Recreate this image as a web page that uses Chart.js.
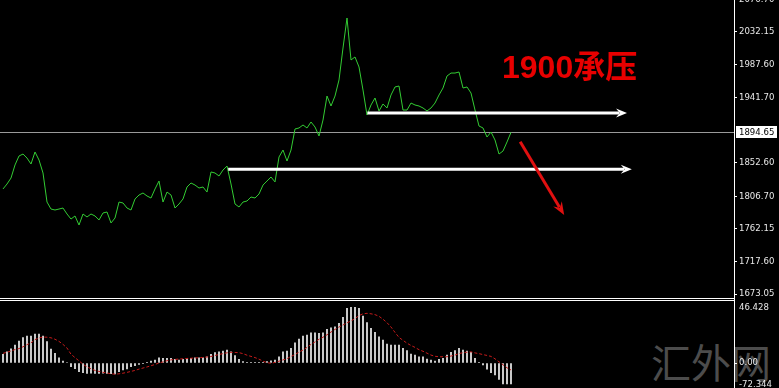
<!DOCTYPE html>
<html>
<head>
<meta charset="utf-8">
<script src="https://cdn.jsdelivr.net/npm/chart.js@4.4.1/dist/chart.umd.min.js"></script>
<style>
  html, body { margin: 0; padding: 0; background: #000; }
  #wrap { position: relative; width: 779px; height: 388px; overflow: hidden; background: #000; }
  #main { position: absolute; left: 0; top: 0; z-index: 1; }
  #sub { position: absolute; left: 0; top: 299px; z-index: 1; }
  .note { position: absolute; left: 502px; top: 51px; z-index: 2; color: #e80000; font: bold 32px 'Liberation Sans', 'Noto Sans CJK SC', sans-serif; line-height: 32px; white-space: nowrap; }
  .mark { position: absolute; left: 651px; top: 341px; z-index: 0; color: #4c4c4c; font: 40px 'Noto Sans CJK SC', sans-serif; line-height: 40px; white-space: nowrap; }
</style>
</head>
<body>
<div id="wrap">
  <div class="mark">汇外网</div>
  <canvas id="main" width="779" height="299"></canvas>
  <canvas id="sub" width="779" height="89"></canvas>
  <div class="note">1900承压</div>
</div>
<script>
// cours de clôture, une barre tous les 4 px
const closePrices = [
  1817.0, 1823.8, 1832.0, 1849.9, 1862.2, 1864.9, 1859.4, 1851.2, 1867.7, 1856.7,
  1838.9, 1799.1, 1789.5, 1788.2, 1789.5, 1790.9, 1782.7, 1775.8, 1780.0, 1767.6,
  1782.7, 1778.6, 1782.7, 1780.0, 1774.5, 1784.1, 1785.4, 1770.4, 1777.2, 1799.1,
  1797.8, 1790.9, 1788.2, 1803.3, 1808.7, 1811.5, 1807.4, 1804.6, 1817.0, 1827.9,
  1799.1, 1812.8, 1808.7, 1790.9, 1796.4, 1803.3, 1819.7, 1825.2, 1822.4, 1818.3,
  1819.7, 1812.8, 1840.3, 1838.9, 1834.8, 1843.0, 1848.5, 1823.8, 1796.4, 1792.3,
  1799.1, 1800.5, 1806.0, 1804.6, 1810.1, 1822.4, 1827.9, 1833.4, 1826.6, 1860.8,
  1870.4, 1855.3, 1870.4, 1899.2, 1900.6, 1904.7, 1900.6, 1908.8, 1901.9, 1889.6,
  1911.5, 1944.4, 1930.7, 1944.4, 1966.4, 2010.2, 2051.3, 1993.8, 1997.9, 1984.2,
  1952.6, 1918.4, 1932.1, 1941.7, 1923.9, 1933.5, 1928.0, 1945.8, 1956.8, 1958.1,
  1925.2, 1925.2, 1934.8, 1932.1, 1930.7, 1928.0, 1923.9, 1928.0, 1934.8, 1945.8,
  1955.4, 1971.8, 1975.9, 1975.9, 1977.3, 1955.4, 1956.8, 1948.5, 1925.2, 1903.3,
  1900.6, 1888.2, 1895.1, 1884.1, 1864.9, 1869.0, 1881.4, 1894.65
];

// MACD : histogramme et ligne de signal
const macdHist = [
  7.2, 9.4, 11.9, 15.0, 18.3, 21.1, 22.5, 22.5, 24.2, 24.2,
  22.5, 17.8, 11.7, 8.1, 4.4, 1.7, 0.4, -3.1, -4.8, -7.2,
  -8.1, -8.6, -8.5, -8.7, -8.6, -8.4, -8.6, -8.8, -9.2, -7.2,
  -5.8, -5.0, -3.1, -2.2, -1.1, -0.3, 0.2, 1.7, 2.5, 4.4,
  3.9, 3.9, 3.9, 3.1, 2.5, 3.1, 3.9, 3.9, 4.4, 4.4,
  4.4, 5.2, 7.2, 8.6, 9.4, 10.0, 10.8, 9.4, 6.1, 3.1,
  1.1, 0.2, 0.3, 0.2, 0.3, 0.5, 1.1, 1.9, 2.5, 5.2,
  9.4, 10.0, 12.2, 16.9, 20.0, 22.5, 23.3, 25.2, 25.2, 24.7,
  25.2, 28.1, 29.4, 30.2, 33.1, 38.1, 45.6, 46.4, 46.4, 45.6,
  39.2, 33.6, 28.9, 25.6, 21.9, 19.2, 15.8, 15.0, 15.0, 15.0,
  12.2, 10.3, 7.5, 6.7, 5.2, 5.2, 3.3, 2.5, 1.7, 3.1,
  3.9, 6.7, 8.9, 10.3, 12.2, 10.8, 10.0, 8.9, 3.9, 0.3,
  -1.7, -5.2, -8.1, -10.0, -13.6, -17.5, -17.5, -17.5
];
const macdSignal = [
  8.0, 9.0, 10.0, 11.2, 12.0, 13.5, 15.3, 16.8, 19.5, 20.9,
  21.6, 21.5, 21.0, 19.8, 18.0, 15.5, 12.5, 7.3, 4.5, 1.8,
  -1.0, -3.2, -4.8, -6.2, -7.0, -7.8, -8.3, -9.0, -9.3, -9.0,
  -8.5, -7.8, -7.0, -6.2, -5.1, -4.2, -3.3, -2.3, -1.2, 0.0,
  0.9, 1.9, 2.6, 3.0, 3.3, 3.5, 3.8, 4.0, 4.2, 4.4,
  4.6, 5.0, 5.4, 6.3, 7.1, 7.8, 8.5, 8.9, 8.8, 8.6,
  7.8, 6.5, 5.5, 4.5, 3.2, 1.5, 0.3, -0.2, 0.5, 1.5,
  2.6, 3.6, 5.5, 7.0, 9.1, 10.8, 13.0, 15.5, 17.5, 19.8,
  21.5, 23.5, 25.8, 28.0, 30.0, 31.7, 33.5, 35.0, 37.0, 39.5,
  41.0, 41.4, 41.0, 40.3, 38.9, 36.5, 33.6, 30.0, 25.5, 21.3,
  18.9, 16.5, 14.6, 13.0, 11.1, 9.8, 8.2, 6.6, 5.6, 5.2,
  5.2, 5.2, 5.8, 6.6, 7.8, 8.6, 9.0, 9.3, 8.4, 7.8,
  7.0, 6.3, 5.5, 3.5, 1.0, -1.5, -4.0, -5.8
];

// graduations de l'axe des prix
const priceTicks = [2076.70, 2032.15, 1987.60, 1941.70, 1852.60, 1806.70, 1762.15, 1717.60, 1673.05];
// MT4 affiche le min de la fenêtre MACD au bord du bas
const macdTickValues = [46.428, 0, -18.33];
const macdTickLabels = ['46.428', '0.00', '-72.344'];

// flèches blanches (niveaux) et flèche rouge (tendance), en barres / prix
const levelPrices = [1921.1, 1844.0];
const levelFrom = [91.1, 56.3];
const levelTo = [156.0, 157.2];
const trendFrom = [129.3, 1881.8];
const trendTo = [140.3, 1781.3];

const lastPrice = closePrices[closePrices.length - 1];
const axisFont = "'DejaVu Sans Condensed', 'Liberation Sans', sans-serif";
const barMin = -0.75, barMax = 182.75;

// axe de droite à largeur fixe, sans marge pour les étiquettes
function fixAxis(s) {
    s.width = 45;
    s.paddingTop = 0;
    s.paddingBottom = 0;
}

function drawArrow(ctx, x1, y1, x2, y2, color, width, head, half) {
    const a = Math.atan2(y2 - y1, x2 - x1);
    const c = Math.cos(a), s = Math.sin(a);
    ctx.save();
    ctx.strokeStyle = color;
    ctx.fillStyle = color;
    ctx.lineWidth = width;
    ctx.beginPath();
    ctx.moveTo(x1, y1);
    ctx.lineTo(x2 - c * head * 0.7, y2 - s * head * 0.7);
    ctx.stroke();
    ctx.beginPath();
    ctx.moveTo(x2, y2);
    ctx.lineTo(x2 - c * head + s * half, y2 - s * head - c * half);
    ctx.lineTo(x2 - c * head * 0.65, y2 - s * head * 0.65);
    ctx.lineTo(x2 - c * head - s * half, y2 - s * head + c * half);
    ctx.closePath();
    ctx.fill();
    ctx.restore();
}

const mainDecor = {
    id: 'mainDecor',
    beforeDatasetsDraw(chart) {
        const { ctx, chartArea, scales } = chart;
        const py = Math.round(scales.y.getPixelForValue(lastPrice)) + 0.5;
        ctx.save();
        ctx.strokeStyle = '#9a9a9a';
        ctx.lineWidth = 1;
        ctx.beginPath();
        ctx.moveTo(chartArea.left, py);
        ctx.lineTo(chartArea.right, py);
        ctx.stroke();
        ctx.restore();
    },
    afterDatasetsDraw(chart) {
        const { ctx, scales: { x, y } } = chart;
        for (let k = 0; k < levelPrices.length; k++) {
            const py = y.getPixelForValue(levelPrices[k]);
            drawArrow(ctx, x.getPixelForValue(levelFrom[k]), py, x.getPixelForValue(levelTo[k]), py, '#ffffff', 3, 11, 4.5);
        }
        drawArrow(ctx,
            x.getPixelForValue(trendFrom[0]), y.getPixelForValue(trendFrom[1]),
            x.getPixelForValue(trendTo[0]), y.getPixelForValue(trendTo[1]),
            '#e01010', 3, 13, 5);
    },
    afterDraw(chart) {
        const { ctx, chartArea, scales } = chart;
        ctx.save();
        ctx.strokeStyle = '#ffffff';
        ctx.lineWidth = 1;
        ctx.beginPath();
        ctx.moveTo(0, chartArea.bottom - 0.5);
        ctx.lineTo(chartArea.right, chartArea.bottom - 0.5);
        ctx.stroke();
        // étiquette du dernier prix
        const py = Math.round(scales.y.getPixelForValue(lastPrice));
        ctx.fillStyle = '#ffffff';
        ctx.fillRect(chartArea.right + 2, py - 6, 41, 12);
        ctx.fillStyle = '#000000';
        ctx.font = '9.5px ' + axisFont;
        ctx.textBaseline = 'middle';
        ctx.fillText(lastPrice.toFixed(2), chartArea.right + 5, py + 0.5);
        ctx.restore();
    }
};

const subDecor = {
    id: 'subDecor',
    afterDraw(chart) {
        const { ctx, chartArea } = chart;
        ctx.save();
        ctx.strokeStyle = '#ffffff';
        ctx.lineWidth = 1;
        ctx.beginPath();
        ctx.moveTo(0, 1.5);
        ctx.lineTo(chartArea.right, 1.5);
        ctx.stroke();
        ctx.restore();
    }
};

// Graphique des prix
new Chart(document.getElementById('main'), {
    type: 'line',
    data: {
        datasets: [{
            data: closePrices.map((v, i) => ({ x: i, y: v })),
            borderColor: '#33cc33',
            borderWidth: 1,
            pointRadius: 0,
            tension: 0
        }]
    },
    options: {
        responsive: false,
        animation: false,
        events: [],
        layout: { padding: 0 },
        plugins: { legend: { display: false }, tooltip: { enabled: false } },
        scales: {
            x: { type: 'linear', min: barMin, max: barMax, display: false },
            y: {
                position: 'right',
                min: 1666.2,
                max: 2076.0,
                afterFit: fixAxis,
                afterBuildTicks: (s) => { s.ticks = priceTicks.map(v => ({ value: v })); },
                ticks: {
                    color: '#e8e8e8',
                    font: { family: axisFont, size: 9.5 },
                    padding: 2,
                    autoSkip: false,
                    callback: (v) => Number(v).toFixed(2)
                },
                grid: { drawOnChartArea: false, color: '#ffffff', tickLength: 3 },
                border: { color: '#ffffff', width: 1 }
            }
        }
    },
    plugins: [mainDecor]
});

// Graphique MACD
new Chart(document.getElementById('sub'), {
    data: {
        datasets: [{
            type: 'bar',
            data: macdHist.map((v, i) => ({ x: i, y: v })),
            backgroundColor: '#f2f2f2',
            barThickness: 1,
            order: 2
        }, {
            type: 'line',
            data: macdSignal.map((v, i) => ({ x: i, y: v })),
            borderColor: '#c41a1a',
            borderWidth: 1,
            borderDash: [3, 2],
            pointRadius: 0,
            tension: 0,
            order: 1
        }]
    },
    options: {
        responsive: false,
        animation: false,
        events: [],
        layout: { padding: 0 },
        plugins: { legend: { display: false }, tooltip: { enabled: false } },
        scales: {
            x: { type: 'linear', min: barMin, max: barMax, offset: false, display: false },
            y: {
                position: 'right',
                min: -20.83,
                max: 53.33,
                afterFit: fixAxis,
                afterBuildTicks: (s) => { s.ticks = macdTickValues.map(v => ({ value: v })); },
                ticks: {
                    color: '#e8e8e8',
                    font: { family: axisFont, size: 9.5 },
                    padding: 2,
                    autoSkip: false,
                    callback: (v, idx) => macdTickLabels[idx]
                },
                grid: {
                    drawOnChartArea: false,
                    tickLength: 3,
                    color: (c) => (c.tick && c.tick.value === 0 ? '#ffffff' : 'rgba(0,0,0,0)')
                },
                border: { color: '#ffffff', width: 1 }
            }
        }
    },
    plugins: [subDecor]
});
</script>
</body>
</html>
